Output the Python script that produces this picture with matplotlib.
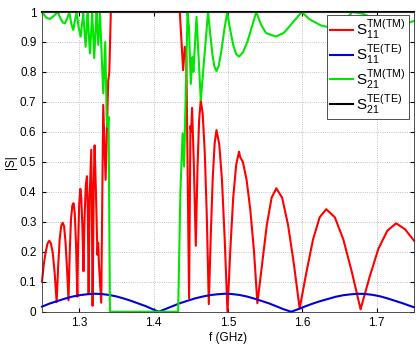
import numpy as np
import matplotlib
matplotlib.use("Agg")
import matplotlib.pyplot as plt

plt.rcParams['font.family'] = ['Liberation Sans', 'DejaVu Sans']
plt.rcParams['mathtext.fontset'] = 'custom'
plt.rcParams['mathtext.rm'] = 'Liberation Sans'

# ---- data (f in GHz, |S|) ----
f_tm11 = [1.2500, 1.2525, 1.2550, 1.2575, 1.2598, 1.2620, 1.2645, 1.2670, 1.2697, 1.2717,
          1.2737, 1.2757, 1.2778, 1.2797, 1.2817, 1.2837, 1.2856, 1.2873, 1.2890, 1.2908,
          1.2925, 1.2940, 1.2958, 1.2975, 1.2985, 1.3000, 1.3015, 1.3028, 1.3043, 1.3058,
          1.3070, 1.3088, 1.3104, 1.3115, 1.3127, 1.3140, 1.3162, 1.3170, 1.3180, 1.3195,
          1.3207, 1.3225, 1.3245, 1.3255, 1.3265, 1.3296, 1.3323, 1.3355, 1.3390, 1.3405,
          1.3425, 1.4352, 1.4397, 1.4420, 1.4440, 1.4477, 1.4495, 1.4505, 1.4517, 1.4540,
          1.4567, 1.4590, 1.4612, 1.4634, 1.4660, 1.4688, 1.4715, 1.4742, 1.4768, 1.4794,
          1.4820, 1.4845, 1.4882, 1.4919, 1.4956, 1.4993, 1.5032, 1.5070, 1.5110, 1.5148,
          1.5165, 1.5200, 1.5250, 1.5300, 1.5350, 1.5395, 1.5459, 1.5522, 1.5586, 1.5650,
          1.5728, 1.5807, 1.5885, 1.5963, 1.6053, 1.6142, 1.6232, 1.6321, 1.6436, 1.6552,
          1.6667, 1.6782, 1.6902, 1.7021, 1.7141, 1.7260, 1.7380, 1.7500]
s_tm11 = [0.100, 0.160, 0.200, 0.228, 0.237, 0.228, 0.195, 0.130, 0.032, 0.150,
          0.240, 0.285, 0.297, 0.285, 0.230, 0.140, 0.038, 0.200, 0.310, 0.355,
          0.362, 0.330, 0.220, 0.050, 0.220, 0.360, 0.410, 0.380, 0.280, 0.135,
          0.300, 0.420, 0.452, 0.340, 0.060, 0.380, 0.540, 0.350, 0.020, 0.420,
          0.555, 0.400, 0.190, 0.230, 0.160, 0.030, 0.690, 0.440, 0.770, 0.800,
          1.000, 1.000, 0.806, 0.884, 0.846, 0.045, 0.620, 0.600, 0.680, 0.500,
          0.220, 0.480, 0.640, 0.706, 0.660, 0.530, 0.320, 0.025, 0.250, 0.440,
          0.560, 0.606, 0.560, 0.440, 0.240, 0.000, 0.210, 0.380, 0.490, 0.534,
          0.515, 0.500, 0.440, 0.340, 0.200, 0.028, 0.160, 0.290, 0.380, 0.412,
          0.380, 0.290, 0.160, 0.011, 0.130, 0.240, 0.315, 0.342, 0.315, 0.240,
          0.130, 0.008, 0.115, 0.210, 0.270, 0.295, 0.275, 0.237]

f_te11 = [1.250, 1.260, 1.270, 1.280, 1.290, 1.300, 1.310, 1.320, 1.330, 1.340,
          1.350, 1.360, 1.370, 1.380, 1.390, 1.400, 1.407, 1.415, 1.425, 1.435,
          1.445, 1.455, 1.465, 1.475, 1.485, 1.496, 1.505, 1.515, 1.525, 1.535,
          1.545, 1.555, 1.565, 1.575, 1.585, 1.595, 1.605, 1.615, 1.625, 1.635,
          1.645, 1.655, 1.665, 1.675, 1.685, 1.695, 1.705, 1.715, 1.725, 1.735,
          1.745, 1.750]
s_te11 = [0.017, 0.027, 0.035, 0.043, 0.050, 0.055, 0.058, 0.060, 0.059, 0.056,
          0.051, 0.044, 0.036, 0.027, 0.018, 0.007, 0.000, 0.008, 0.018, 0.028,
          0.036, 0.044, 0.050, 0.055, 0.058, 0.060, 0.059, 0.056, 0.051, 0.044,
          0.036, 0.028, 0.018, 0.008, 0.000, 0.009, 0.019, 0.028, 0.036, 0.043,
          0.050, 0.055, 0.058, 0.060, 0.059, 0.056, 0.051, 0.044, 0.036, 0.028,
          0.019, 0.015]

f_tm21 = [1.2500, 1.2530, 1.2560, 1.2607, 1.2650, 1.2690, 1.2719, 1.2750, 1.2780, 1.2809,
          1.2840, 1.2867, 1.2895, 1.2920, 1.2945, 1.2965, 1.2995, 1.3019, 1.3040, 1.3055,
          1.3086, 1.3100, 1.3113, 1.3144, 1.3160, 1.3175, 1.3202, 1.3220, 1.3234, 1.3256,
          1.3279, 1.3323, 1.3350, 1.3370, 1.3382, 1.3395, 1.3413, 1.4330, 1.4360, 1.4390,
          1.4410, 1.4456, 1.4475, 1.4500, 1.4520, 1.4535, 1.4577, 1.4634, 1.4732, 1.4760,
          1.4790, 1.4815, 1.4845, 1.4875, 1.4910, 1.4950, 1.4990, 1.5030, 1.5070, 1.5110,
          1.5148, 1.5200, 1.5260, 1.5320, 1.5380, 1.5440, 1.5510, 1.5640, 1.5750, 1.5870,
          1.5990, 1.6100, 1.6250, 1.6410, 1.6550, 1.6670, 1.6800, 1.6950, 1.7100, 1.7250,
          1.7400, 1.7500]
s_tm21 = [1.000, 0.990, 0.980, 0.977, 0.985, 0.995, 0.996, 0.978, 0.965, 0.962,
          0.980, 0.998, 0.960, 0.940, 0.975, 0.998, 0.945, 0.918, 0.965, 0.995,
          0.884, 0.940, 0.995, 0.862, 0.930, 0.995, 0.846, 0.940, 1.000, 0.890,
          0.995, 0.729, 0.900, 0.640, 0.617, 0.650, 0.000, 0.000, 0.400, 0.595,
          0.484, 1.000, 0.950, 0.760, 0.850, 0.800, 0.984, 0.706, 1.000, 0.930,
          0.860, 0.820, 0.803, 0.820, 0.870, 0.940, 1.000, 0.940, 0.890, 0.860,
          0.851, 0.865, 0.900, 0.950, 1.000, 0.960, 0.930, 0.918, 0.930, 0.965,
          1.000, 0.975, 0.955, 0.946, 0.965, 1.000, 0.995, 0.980, 0.962, 0.955,
          0.962, 0.970]

f_te21 = [1.25, 1.75]
s_te21 = [1.0, 1.0]

labels = [r'$\mathregular{S_{11}^{TM(TM)}}$', r'$\mathregular{S_{11}^{TE(TE)}}$',
          r'$\mathregular{S_{21}^{TM(TM)}}$', r'$\mathregular{S_{21}^{TE(TE)}}$']

fig = plt.figure(figsize=(4.2, 3.47), dpi=100)
ax = fig.add_axes([0.1, 0.1017, 0.8857, 0.8637])

lw = 1.5
ax.plot(f_tm11, s_tm11, color='#ff0000', lw=lw, label=labels[0], clip_on=False)
ax.plot(f_te11, s_te11, color='#0000dd', lw=lw, label=labels[1], clip_on=False)
ax.plot(f_tm21, s_tm21, color='#00e600', lw=lw, label=labels[2], clip_on=False)
ax.plot(f_te21, s_te21, color='black', lw=lw, label=labels[3], clip_on=False)

ax.set_xlim(1.25, 1.75)
ax.set_ylim(0, 1)
ax.set_xticks([1.3, 1.4, 1.5, 1.6, 1.7])
ax.set_xticklabels(['1.3', '1.4', '1.5', '1.6', '1.7'])
yt = np.round(np.arange(0, 1.01, 0.1), 1)
ax.set_yticks(yt)
ax.set_yticklabels(['0'] + [f'{v:.1f}' for v in yt[1:-1]] + ['1'])

ax.grid(True, linestyle=':', linewidth=0.6, color='#b0b0b0')
ax.tick_params(direction='in', top=True, right=True, labelsize=8.5, length=3, pad=4)
for sp in ax.spines.values():
    sp.set_linewidth(0.6)
    sp.set_edgecolor('#333333')

ax.set_xlabel('f (GHz)', fontsize=8.5, labelpad=2)
ax.set_ylabel('|S|', fontsize=8.5, labelpad=2)

leg = ax.legend(loc='upper right', bbox_to_anchor=(0.987, 0.99), borderaxespad=0,
                fontsize=11, frameon=True, fancybox=False, framealpha=1,
                edgecolor='#333333', handlelength=1.5, handletextpad=0.25,
                labelspacing=0.1, borderpad=0.2)
leg.get_frame().set_linewidth(0.6)

fig.savefig('out.png', dpi=100)
